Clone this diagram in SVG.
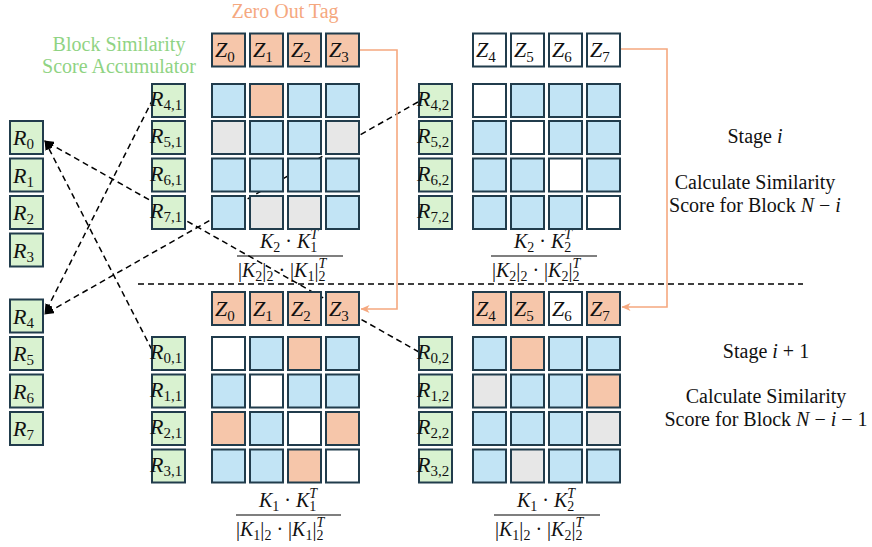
<svg xmlns="http://www.w3.org/2000/svg" width="872" height="547" viewBox="0 0 872 547">
<style>
text{font-family:"Liberation Serif","Times New Roman",serif;fill:#111}
.i{font-style:italic}
.s{font-size:15px;font-style:normal}
.fr .s{font-size:14px}
.si{font-size:14px;font-style:italic}
.c{stroke:#213c4c;stroke-width:2}
.b{fill:#c2e4f5}.o{fill:#f6c6aa}.g{fill:#e7e7e7}.w{fill:#fff}.gr{fill:#d9f2d0}
.lbl{font-size:20px}
.ml{font-size:22px}
.fr{font-size:20px}
.dash{stroke:#000;stroke-width:1.5;stroke-dasharray:6 4;fill:none}
.or{stroke:#f5a87f;stroke-width:1.6;fill:none}
</style>
<defs>
<marker id="ah" viewBox="0 0 10 8" refX="9" refY="4" markerWidth="10" markerHeight="8" markerUnits="userSpaceOnUse" orient="auto"><path d="M0,0 L10,4 L0,8 z" fill="#000"/></marker>
<marker id="oh" viewBox="0 0 9 8" refX="8.5" refY="4" markerWidth="9" markerHeight="8" markerUnits="userSpaceOnUse" orient="auto"><path d="M0,0 L9,4 L0,8 L2.5,4 z" fill="#f5a87f"/></marker>
</defs>

<g id="titles">
<text x="285" y="18" class="lbl" text-anchor="middle" style="fill:#f5a87f">Zero Out Tag</text>
<text x="119" y="51" class="lbl" text-anchor="middle" style="fill:#8fd383">Block Similarity</text>
<text x="119" y="73" class="lbl" text-anchor="middle" style="fill:#8fd383">Score Accumulator</text>
<text x="755" y="143" class="lbl" text-anchor="middle">Stage <tspan class="i">i</tspan></text>
<text x="755" y="189" class="lbl" text-anchor="middle">Calculate Similarity</text>
<text x="755" y="212" class="lbl" text-anchor="middle">Score for Block <tspan class="i">N</tspan> − <tspan class="i">i</tspan></text>
<text x="766" y="358" class="lbl" text-anchor="middle">Stage <tspan class="i">i</tspan> + 1</text>
<text x="766" y="403" class="lbl" text-anchor="middle">Calculate Similarity</text>
<text x="766" y="426" class="lbl" text-anchor="middle">Score for Block <tspan class="i">N</tspan> − <tspan class="i">i</tspan> − 1</text>
</g>

<g id="fractions" class="fr">
<text x="260" y="248" class="fr"><tspan class="i">K</tspan><tspan class="s" dy="4">2</tspan><tspan dy="-4"> · </tspan><tspan class="i">K</tspan><tspan class="s" dy="4">1</tspan><tspan class="si" dx="-7" dy="-13">T</tspan></text>
<line x1="237" y1="256" x2="343" y2="256" stroke="#000" stroke-width="1.2"/>
<text x="238" y="277" class="fr">|<tspan class="i">K</tspan><tspan class="s" dy="4">2</tspan><tspan dy="-4">|</tspan><tspan class="s" dy="4">2</tspan><tspan dy="-4"> · |</tspan><tspan class="i">K</tspan><tspan class="s" dy="4">1</tspan><tspan dy="-4">|</tspan><tspan class="s" dy="4">2</tspan><tspan class="si" dx="-7" dy="-13">T</tspan></text>

<text x="514" y="248" class="fr"><tspan class="i">K</tspan><tspan class="s" dy="4">2</tspan><tspan dy="-4"> · </tspan><tspan class="i">K</tspan><tspan class="s" dy="4">2</tspan><tspan class="si" dx="-7" dy="-13">T</tspan></text>
<line x1="491" y1="256" x2="597" y2="256" stroke="#000" stroke-width="1.2"/>
<text x="492" y="277" class="fr">|<tspan class="i">K</tspan><tspan class="s" dy="4">2</tspan><tspan dy="-4">|</tspan><tspan class="s" dy="4">2</tspan><tspan dy="-4"> · |</tspan><tspan class="i">K</tspan><tspan class="s" dy="4">2</tspan><tspan dy="-4">|</tspan><tspan class="s" dy="4">2</tspan><tspan class="si" dx="-7" dy="-13">T</tspan></text>

<text x="259" y="507" class="fr"><tspan class="i">K</tspan><tspan class="s" dy="4">1</tspan><tspan dy="-4"> · </tspan><tspan class="i">K</tspan><tspan class="s" dy="4">1</tspan><tspan class="si" dx="-7" dy="-13">T</tspan></text>
<line x1="236" y1="515" x2="341" y2="515" stroke="#000" stroke-width="1.2"/>
<text x="236" y="536" class="fr">|<tspan class="i">K</tspan><tspan class="s" dy="4">1</tspan><tspan dy="-4">|</tspan><tspan class="s" dy="4">2</tspan><tspan dy="-4"> · |</tspan><tspan class="i">K</tspan><tspan class="s" dy="4">1</tspan><tspan dy="-4">|</tspan><tspan class="s" dy="4">2</tspan><tspan class="si" dx="-7" dy="-13">T</tspan></text>

<text x="517" y="507" class="fr"><tspan class="i">K</tspan><tspan class="s" dy="4">1</tspan><tspan dy="-4"> · </tspan><tspan class="i">K</tspan><tspan class="s" dy="4">2</tspan><tspan class="si" dx="-7" dy="-13">T</tspan></text>
<line x1="494" y1="515" x2="600" y2="515" stroke="#000" stroke-width="1.2"/>
<text x="495" y="536" class="fr">|<tspan class="i">K</tspan><tspan class="s" dy="4">1</tspan><tspan dy="-4">|</tspan><tspan class="s" dy="4">2</tspan><tspan dy="-4"> · |</tspan><tspan class="i">K</tspan><tspan class="s" dy="4">2</tspan><tspan dy="-4">|</tspan><tspan class="s" dy="4">2</tspan><tspan class="si" dx="-7" dy="-13">T</tspan></text>
</g>

<g id="connectors">
<line class="dash" x1="138" y1="284" x2="803" y2="284"/>
<line class="dash" x1="153" y1="99" x2="45" y2="313" marker-end="url(#ah)"/>
<line class="dash" x1="418" y1="102" x2="45" y2="314" marker-end="url(#ah)"/>
<line class="dash" x1="152" y1="350" x2="45" y2="141" marker-end="url(#ah)"/>
<line class="dash" x1="419" y1="352" x2="45" y2="141" marker-end="url(#ah)"/>
<polyline class="or" points="360,50 397,50 397,309 361,309" marker-end="url(#oh)"/>
<polyline class="or" points="621,49 667,49 667,307 622,307" marker-end="url(#oh)"/>
</g>

<g id="acc-left">
<g id="R0"><rect class="gr c" x="10" y="121" width="33" height="33"/><text x="13" y="145" class="ml i">R<tspan class="s" dy="4">0</tspan></text></g>
<g id="R1"><rect class="gr c" x="10" y="158.5" width="33" height="33"/><text x="13" y="182.5" class="ml i">R<tspan class="s" dy="4">1</tspan></text></g>
<g id="R2"><rect class="gr c" x="10" y="196" width="33" height="33"/><text x="13" y="220" class="ml i">R<tspan class="s" dy="4">2</tspan></text></g>
<g id="R3"><rect class="gr c" x="10" y="233.5" width="33" height="33"/><text x="13" y="257.5" class="ml i">R<tspan class="s" dy="4">3</tspan></text></g>
<g id="R4"><rect class="gr c" x="10" y="299.5" width="33" height="33"/><text x="13" y="323.5" class="ml i">R<tspan class="s" dy="4">4</tspan></text></g>
<g id="R5"><rect class="gr c" x="10" y="337" width="33" height="33"/><text x="13" y="361" class="ml i">R<tspan class="s" dy="4">5</tspan></text></g>
<g id="R6"><rect class="gr c" x="10" y="374.5" width="33" height="33"/><text x="13" y="398.5" class="ml i">R<tspan class="s" dy="4">6</tspan></text></g>
<g id="R7"><rect class="gr c" x="10" y="412" width="33" height="33"/><text x="13" y="436" class="ml i">R<tspan class="s" dy="4">7</tspan></text></g>
</g>

<g id="z-top-left">
<g id="Z0a"><rect class="o c" x="212" y="33.5" width="33" height="33"/><text x="215" y="57" class="ml i">Z<tspan class="s" dy="5">0</tspan></text></g>
<g id="Z1a"><rect class="o c" x="250" y="33.5" width="33" height="33"/><text x="253" y="57" class="ml i">Z<tspan class="s" dy="5">1</tspan></text></g>
<g id="Z2a"><rect class="o c" x="288" y="33.5" width="33" height="33"/><text x="291" y="57" class="ml i">Z<tspan class="s" dy="5">2</tspan></text></g>
<g id="Z3a"><rect class="o c" x="326" y="33.5" width="33" height="33"/><text x="329" y="57" class="ml i">Z<tspan class="s" dy="5">3</tspan></text></g>
</g>
<g id="z-top-right">
<g id="Z4a"><rect class="w c" x="473" y="33.5" width="33" height="33"/><text x="476" y="57" class="ml i">Z<tspan class="s" dy="5">4</tspan></text></g>
<g id="Z5a"><rect class="w c" x="511" y="33.5" width="33" height="33"/><text x="514" y="57" class="ml i">Z<tspan class="s" dy="5">5</tspan></text></g>
<g id="Z6a"><rect class="w c" x="549" y="33.5" width="33" height="33"/><text x="552" y="57" class="ml i">Z<tspan class="s" dy="5">6</tspan></text></g>
<g id="Z7a"><rect class="w c" x="587" y="33.5" width="33" height="33"/><text x="590" y="57" class="ml i">Z<tspan class="s" dy="5">7</tspan></text></g>
</g>
<g id="z-bot-left">
<g id="Z0b"><rect class="o c" x="212" y="292" width="33" height="33"/><text x="215" y="315.5" class="ml i">Z<tspan class="s" dy="5">0</tspan></text></g>
<g id="Z1b"><rect class="o c" x="250" y="292" width="33" height="33"/><text x="253" y="315.5" class="ml i">Z<tspan class="s" dy="5">1</tspan></text></g>
<g id="Z2b"><rect class="o c" x="288" y="292" width="33" height="33"/><text x="291" y="315.5" class="ml i">Z<tspan class="s" dy="5">2</tspan></text></g>
<g id="Z3b"><rect class="o c" x="326" y="292" width="33" height="33"/><text x="329" y="315.5" class="ml i">Z<tspan class="s" dy="5">3</tspan></text></g>
</g>
<g id="z-bot-right">
<g id="Z4b"><rect class="o c" x="473" y="292" width="33" height="33"/><text x="476" y="315.5" class="ml i">Z<tspan class="s" dy="5">4</tspan></text></g>
<g id="Z5b"><rect class="o c" x="511" y="292" width="33" height="33"/><text x="514" y="315.5" class="ml i">Z<tspan class="s" dy="5">5</tspan></text></g>
<g id="Z6b"><rect class="w c" x="549" y="292" width="33" height="33"/><text x="552" y="315.5" class="ml i">Z<tspan class="s" dy="5">6</tspan></text></g>
<g id="Z7b"><rect class="o c" x="587" y="292" width="33" height="33"/><text x="590" y="315.5" class="ml i">Z<tspan class="s" dy="5">7</tspan></text></g>
</g>

<g id="rows-top-left">
<g id="R41"><rect class="gr c" x="152" y="84" width="33" height="33"/><text x="150" y="106" class="ml i">R<tspan class="s" dy="4">4,1</tspan></text></g>
<g id="R51"><rect class="gr c" x="152" y="121" width="33" height="33"/><text x="150" y="143" class="ml i">R<tspan class="s" dy="4">5,1</tspan></text></g>
<g id="R61"><rect class="gr c" x="152" y="158.5" width="33" height="33"/><text x="150" y="180.5" class="ml i">R<tspan class="s" dy="4">6,1</tspan></text></g>
<g id="R71"><rect class="gr c" x="152" y="196" width="33" height="33"/><text x="150" y="218" class="ml i">R<tspan class="s" dy="4">7,1</tspan></text></g>
</g>
<g id="rows-top-right">
<g id="R42"><rect class="gr c" x="419" y="84" width="33" height="33"/><text x="417" y="106" class="ml i">R<tspan class="s" dy="4">4,2</tspan></text></g>
<g id="R52"><rect class="gr c" x="419" y="121" width="33" height="33"/><text x="417" y="143" class="ml i">R<tspan class="s" dy="4">5,2</tspan></text></g>
<g id="R62"><rect class="gr c" x="419" y="158.5" width="33" height="33"/><text x="417" y="180.5" class="ml i">R<tspan class="s" dy="4">6,2</tspan></text></g>
<g id="R72"><rect class="gr c" x="419" y="196" width="33" height="33"/><text x="417" y="218" class="ml i">R<tspan class="s" dy="4">7,2</tspan></text></g>
</g>
<g id="rows-bot-left">
<g id="R01"><rect class="gr c" x="152" y="337" width="33" height="33"/><text x="150" y="359" class="ml i">R<tspan class="s" dy="4">0,1</tspan></text></g>
<g id="R11"><rect class="gr c" x="152" y="374.5" width="33" height="33"/><text x="150" y="396.5" class="ml i">R<tspan class="s" dy="4">1,1</tspan></text></g>
<g id="R21"><rect class="gr c" x="152" y="412" width="33" height="33"/><text x="150" y="434" class="ml i">R<tspan class="s" dy="4">2,1</tspan></text></g>
<g id="R31"><rect class="gr c" x="152" y="449.5" width="33" height="33"/><text x="150" y="471.5" class="ml i">R<tspan class="s" dy="4">3,1</tspan></text></g>
</g>
<g id="rows-bot-right">
<g id="R02"><rect class="gr c" x="419" y="337" width="33" height="33"/><text x="417" y="359" class="ml i">R<tspan class="s" dy="4">0,2</tspan></text></g>
<g id="R12"><rect class="gr c" x="419" y="374.5" width="33" height="33"/><text x="417" y="396.5" class="ml i">R<tspan class="s" dy="4">1,2</tspan></text></g>
<g id="R22"><rect class="gr c" x="419" y="412" width="33" height="33"/><text x="417" y="434" class="ml i">R<tspan class="s" dy="4">2,2</tspan></text></g>
<g id="R32"><rect class="gr c" x="419" y="449.5" width="33" height="33"/><text x="417" y="471.5" class="ml i">R<tspan class="s" dy="4">3,2</tspan></text></g>
</g>

<g id="grid-top-left">
<rect class="b c" x="212" y="84" width="33" height="33"/><rect class="o c" x="250" y="84" width="33" height="33"/><rect class="b c" x="288" y="84" width="33" height="33"/><rect class="b c" x="326" y="84" width="33" height="33"/>
<rect class="g c" x="212" y="121" width="33" height="33"/><rect class="b c" x="250" y="121" width="33" height="33"/><rect class="b c" x="288" y="121" width="33" height="33"/><rect class="g c" x="326" y="121" width="33" height="33"/>
<rect class="b c" x="212" y="158.5" width="33" height="33"/><rect class="b c" x="250" y="158.5" width="33" height="33"/><rect class="b c" x="288" y="158.5" width="33" height="33"/><rect class="b c" x="326" y="158.5" width="33" height="33"/>
<rect class="b c" x="212" y="196" width="33" height="33"/><rect class="g c" x="250" y="196" width="33" height="33"/><rect class="g c" x="288" y="196" width="33" height="33"/><rect class="b c" x="326" y="196" width="33" height="33"/>
</g>
<g id="grid-top-right">
<rect class="w c" x="473" y="84" width="33" height="33"/><rect class="b c" x="511" y="84" width="33" height="33"/><rect class="b c" x="549" y="84" width="33" height="33"/><rect class="b c" x="587" y="84" width="33" height="33"/>
<rect class="b c" x="473" y="121" width="33" height="33"/><rect class="w c" x="511" y="121" width="33" height="33"/><rect class="b c" x="549" y="121" width="33" height="33"/><rect class="b c" x="587" y="121" width="33" height="33"/>
<rect class="b c" x="473" y="158.5" width="33" height="33"/><rect class="b c" x="511" y="158.5" width="33" height="33"/><rect class="w c" x="549" y="158.5" width="33" height="33"/><rect class="b c" x="587" y="158.5" width="33" height="33"/>
<rect class="b c" x="473" y="196" width="33" height="33"/><rect class="b c" x="511" y="196" width="33" height="33"/><rect class="b c" x="549" y="196" width="33" height="33"/><rect class="w c" x="587" y="196" width="33" height="33"/>
</g>
<g id="grid-bot-left">
<rect class="w c" x="212" y="337" width="33" height="33"/><rect class="b c" x="250" y="337" width="33" height="33"/><rect class="o c" x="288" y="337" width="33" height="33"/><rect class="b c" x="326" y="337" width="33" height="33"/>
<rect class="b c" x="212" y="374.5" width="33" height="33"/><rect class="w c" x="250" y="374.5" width="33" height="33"/><rect class="b c" x="288" y="374.5" width="33" height="33"/><rect class="b c" x="326" y="374.5" width="33" height="33"/>
<rect class="o c" x="212" y="412" width="33" height="33"/><rect class="b c" x="250" y="412" width="33" height="33"/><rect class="w c" x="288" y="412" width="33" height="33"/><rect class="o c" x="326" y="412" width="33" height="33"/>
<rect class="b c" x="212" y="449.5" width="33" height="33"/><rect class="b c" x="250" y="449.5" width="33" height="33"/><rect class="o c" x="288" y="449.5" width="33" height="33"/><rect class="w c" x="326" y="449.5" width="33" height="33"/>
</g>
<g id="grid-bot-right">
<rect class="b c" x="473" y="337" width="33" height="33"/><rect class="o c" x="511" y="337" width="33" height="33"/><rect class="b c" x="549" y="337" width="33" height="33"/><rect class="b c" x="587" y="337" width="33" height="33"/>
<rect class="g c" x="473" y="374.5" width="33" height="33"/><rect class="b c" x="511" y="374.5" width="33" height="33"/><rect class="b c" x="549" y="374.5" width="33" height="33"/><rect class="o c" x="587" y="374.5" width="33" height="33"/>
<rect class="b c" x="473" y="412" width="33" height="33"/><rect class="b c" x="511" y="412" width="33" height="33"/><rect class="b c" x="549" y="412" width="33" height="33"/><rect class="g c" x="587" y="412" width="33" height="33"/>
<rect class="b c" x="473" y="449.5" width="33" height="33"/><rect class="g c" x="511" y="449.5" width="33" height="33"/><rect class="b c" x="549" y="449.5" width="33" height="33"/><rect class="b c" x="587" y="449.5" width="33" height="33"/>
</g>
</svg>
